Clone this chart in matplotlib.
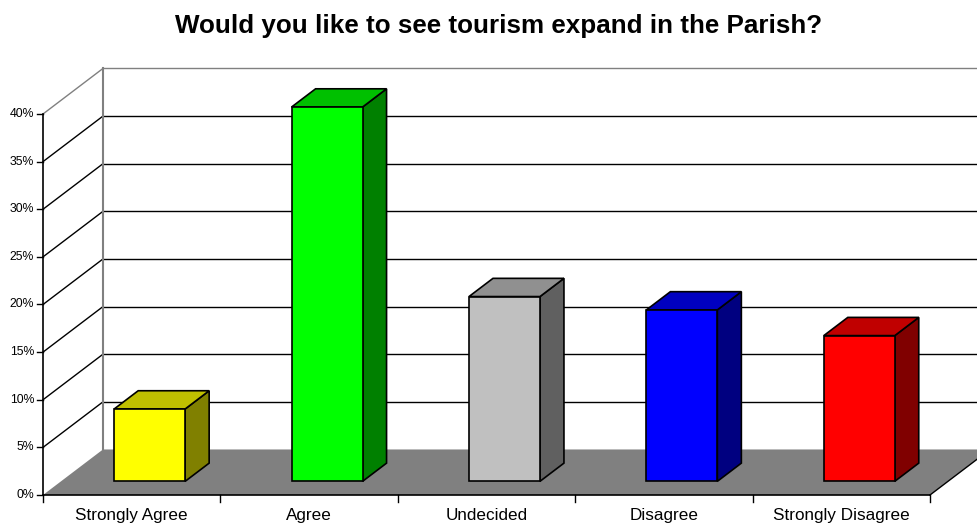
import matplotlib
matplotlib.use("Agg")
import matplotlib.pyplot as plt
from matplotlib.patches import Polygon

plt.rcParams['font.family'] = ['Liberation Sans', 'DejaVu Sans']

# survey answers
categories = ['Strongly Agree', 'Agree', 'Undecided', 'Disagree', 'Strongly Disagree']
percent = [7.6, 39.3, 19.4, 18.0, 15.3]
front_colors = ['#FFFF00', '#00FF00', '#C0C0C0', '#0000FF', '#FF0000']
top_colors = ['#C0C000', '#00C000', '#909090', '#0000C0', '#C00000']
side_colors = ['#808000', '#008000', '#606060', '#000080', '#800000']
y_ticks = [0, 5, 10, 15, 20, 25, 30, 35, 40]

# depth offset of the back wall (category units, percent units)
DX = 0.338
DY = 4.78
F0, F1 = 0.3, 0.7   # bar front/back as fraction of depth
HALF_W = 0.2

fig = plt.figure(figsize=(9.78, 5.25), dpi=100)
ax = fig.add_axes([43 / 978, 30 / 525, 887 / 978, 381 / 525])
ax.set_xlim(0, 5)
ax.set_ylim(0, 40)
ax.axis('off')

n = len(categories)

# back wall gridlines and side wall lines
for v in y_ticks[1:]:
    col = '#808080' if v == 40 else 'black'
    ax.plot([DX, n + DX], [v + DY, v + DY], color=col, lw=1, clip_on=False, zorder=1)
    ax.plot([0, DX], [v, v + DY], color=col, lw=1, clip_on=False, zorder=1)
ax.plot([DX, DX], [DY, 40 + DY], color='#808080', lw=1.5, clip_on=False, zorder=1)

# floor
floor = Polygon([(0, 0), (n, 0), (n + DX, DY), (DX, DY)], closed=True,
                facecolor='#808080', edgecolor='none', clip_on=False, zorder=2)
ax.add_patch(floor)
ax.plot([n, n + DX], [0, DY], color='black', lw=1, clip_on=False, zorder=3)

# value axis
ax.plot([0, 0], [0, 40], color='black', lw=1.2, clip_on=False, zorder=3)
for v in y_ticks:
    ax.plot([-0.034, 0], [v, v], color='black', lw=1, clip_on=False, zorder=3)
    ax.text(-0.05, v, f'{v}%', ha='right', va='center', fontsize=8.8, zorder=3)

# category axis
ax.plot([0, n], [0, 0], color='black', lw=1.2, clip_on=False, zorder=3)
for k in range(n + 1):
    ax.plot([k, k], [0, -0.75], color='black', lw=1, clip_on=False, zorder=3)
for i, name in enumerate(categories):
    ax.text(i + 0.5, -2.1, name, ha='center', va='center', fontsize=12.3, zorder=3)

# bars: side, top and front faces
for i, v in enumerate(percent):
    c = i + 0.5
    xl0 = c - HALF_W + F0 * DX
    xr0 = c + HALF_W + F0 * DX
    xl1 = c - HALF_W + F1 * DX
    xr1 = c + HALF_W + F1 * DX
    y0 = F0 * DY
    y1 = F1 * DY
    side = Polygon([(xr0, y0), (xr1, y1), (xr1, v + y1), (xr0, v + y0)],
                   facecolor=side_colors[i], edgecolor='black', lw=1.2,
                   clip_on=False, zorder=4)
    top = Polygon([(xl0, v + y0), (xr0, v + y0), (xr1, v + y1), (xl1, v + y1)],
                  facecolor=top_colors[i], edgecolor='black', lw=1.2,
                  clip_on=False, zorder=4)
    front = Polygon([(xl0, y0), (xr0, y0), (xr0, v + y0), (xl0, v + y0)],
                    facecolor=front_colors[i], edgecolor='black', lw=1.2,
                    clip_on=False, zorder=5)
    ax.add_patch(side)
    ax.add_patch(top)
    ax.add_patch(front)

fig.text(499 / 978, 1 - 26 / 525, 'Would you like to see tourism expand in the Parish?',
         ha='center', va='center', fontsize=18.7, fontweight='bold')

fig.savefig('out.png', dpi=100)
